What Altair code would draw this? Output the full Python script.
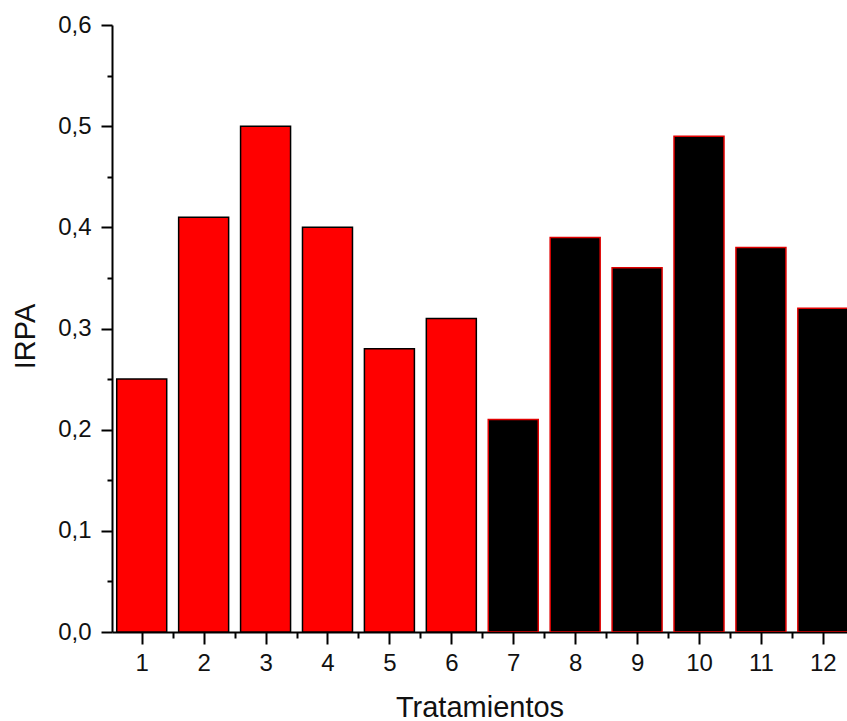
import altair as alt
import pandas as pd

tratamientos = [1, 2, 3, 4, 5, 6, 7, 8, 9, 10, 11, 12]
irpa = [0.25, 0.41, 0.50, 0.40, 0.28, 0.31, 0.21, 0.39, 0.36, 0.49, 0.38, 0.32]
grupo = ["A", "A", "A", "A", "A", "A", "B", "B", "B", "B", "B", "B"]

x_ticks = [0.5, 1, 1.5, 2, 2.5, 3, 3.5, 4, 4.5, 5, 5.5, 6, 6.5, 7, 7.5, 8, 8.5,
           9, 9.5, 10, 10.5, 11, 11.5, 12]
y_ticks = [0, 0.05, 0.1, 0.15, 0.2, 0.25, 0.3, 0.35, 0.4, 0.45, 0.5, 0.55, 0.6]

df = pd.DataFrame({"Tratamientos": tratamientos, "IRPA": irpa, "grupo": grupo})

FONT = "Liberation Sans"

x_axis = alt.Axis(
    values=x_ticks,
    title="Tratamientos",
    labelExpr="datum.value % 1 === 0 ? datum.value : ''",
    tickSize=12,
    tickDash={"condition": {"test": "datum.value % 1 !== 0", "value": [6, 100]}, "value": [100, 0]},
    labelFontSize=24,
    labelPadding=7,
    labelFont=FONT,
    labelColor="#111111",
    titleFont=FONT,
    titleFontSize=29,
    titleFontWeight="normal",
    titleColor="#111111",
    titlePadding=18,
    labelFlush=False,
    labelOverlap=False,
    grid=False,
    domainColor="black",
    domainWidth=2,
    tickColor="black",
    tickWidth=2,
)

y_axis = alt.Axis(
    values=y_ticks,
    title="IRPA",
    labelExpr="round(datum.value*20) % 2 === 0 ? replace(format(datum.value, '.1f'), '.', ',') : ''",
    tickSize=11,
    tickDash={"condition": {"test": "round(datum.value*20) % 2 !== 0", "value": [5, 100]}, "value": [100, 0]},
    labelFontSize=24,
    labelPadding=10,
    labelFont=FONT,
    labelColor="#111111",
    titleFont=FONT,
    titleFontSize=29,
    titleFontWeight="normal",
    titleColor="#111111",
    titleX=-87,
    titleY=311,
    titleAngle=-90,
    titleAlign="center",
    titleBaseline="middle",
    labelFlush=False,
    labelOverlap=False,
    grid=False,
    domainColor="black",
    domainWidth=2,
    tickColor="black",
    tickWidth=2,
)

chart = (
    alt.Chart(df)
    .mark_bar(size=50, strokeWidth=1.5, clip=True)
    .encode(
        x=alt.X("Tratamientos:Q",
                scale=alt.Scale(domain=[0.52, 12.39], nice=False, zero=False, padding=0),
                axis=x_axis),
        y=alt.Y("IRPA:Q", scale=alt.Scale(domain=[0, 0.6], nice=False, padding=0), axis=y_axis),
        fill=alt.Fill("grupo:N", scale=alt.Scale(domain=["A", "B"], range=["#ff0000", "#000000"]), legend=None),
        stroke=alt.Stroke("grupo:N", scale=alt.Scale(domain=["A", "B"], range=["#000000", "#e00000"]), legend=None),
    )
    .properties(
        width=735,
        height=607,
        background="white",
        autosize=alt.AutoSizeParams(type="none"),
        padding={"left": 112, "top": 25, "right": 0, "bottom": 89},
    )
    .configure_view(strokeWidth=0, stroke="transparent")
)

chart.save("out.html", embed_options={"renderer": "svg", "actions": False})
